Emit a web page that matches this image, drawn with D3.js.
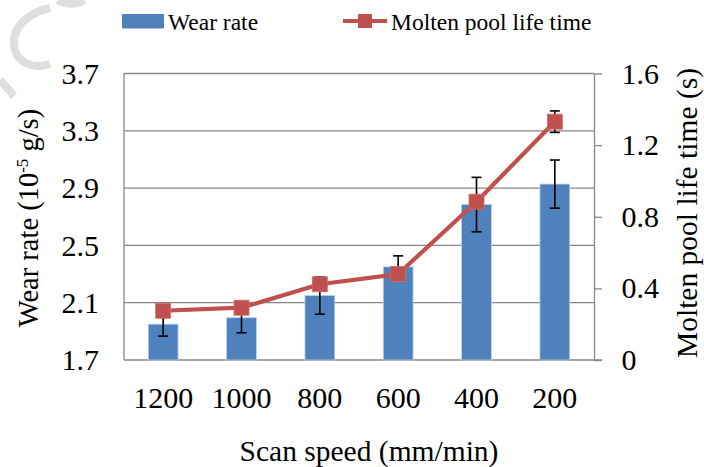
<!DOCTYPE html>
<html>
<head>
<meta charset="utf-8">
<script src="https://cdn.jsdelivr.net/npm/d3@7"></script>
<style>
  html, body { margin: 0; padding: 0; background: #fff; }
  svg text { font-family: "Liberation Serif", "Tinos", "Times New Roman", "DejaVu Serif", serif !important; }
</style>
</head>
<body>
<svg id="chart" width="704" height="467"></svg>
<script>
// Scan speed categories (mm/min)
const categories = ["1200", "1000", "800", "600", "400", "200"];
// Wear rate, 10^-5 g/s, with standard deviation
const wearRate = [1.95, 1.995, 2.15, 2.35, 2.785, 2.928];
const wearErr = [0.083, 0.105, 0.13, 0.077, 0.19, 0.168];
// Molten pool life time, s, with standard deviation
const poolLife = [0.275, 0.292, 0.423, 0.48, 0.884, 1.331];
const poolErr = [0.02, 0.02, 0.02, 0.02, 0.03, 0.06];
// Axis ticks
const leftTicks = [1.7, 2.1, 2.5, 2.9, 3.3, 3.7];
const rightTicks = [0, 0.4, 0.8, 1.2, 1.6];

const svg = d3.select("#chart");
const plot = { left: 124, right: 594, top: 73.5, bottom: 360 };
const gridColor = "#878787";
const barColor = "#4F81BD";
const lineColor = "#C0504D";

const x = d3.scaleBand().domain(categories)
  .range([plot.left, plot.right]).paddingInner(0.62).paddingOuter(0.31);
const yL = d3.scaleLinear().domain([1.7, 3.7]).range([plot.bottom, plot.top]);
const yR = d3.scaleLinear().domain([0, 1.6]).range([plot.bottom, plot.top]);
const cx = c => x(c) + x.bandwidth() / 2;

// faint watermark stroke in the corner
svg.append("g").attr("fill", "none").attr("stroke", "#dedede")
  .attr("stroke-width", 8)
  .selectAll("path")
  .data([
    "M50,8 C30,12 12,26 14,46 C16,62 32,70 50,64",
    "M0,80 L14,96",
    "M58,0 C66,5 76,5 84,0"
  ])
  .join("path").attr("d", d => d);

// horizontal gridlines
svg.append("g").selectAll("line").data(leftTicks.slice(1)).join("line")
  .attr("x1", plot.left).attr("x2", plot.right)
  .attr("y1", d => yL(d)).attr("y2", d => yL(d))
  .attr("stroke", gridColor).attr("stroke-width", 1.3);

// axis lines
const axisLines = svg.append("g").attr("stroke", gridColor).attr("stroke-width", 1.3);
axisLines.append("line").attr("x1", plot.left).attr("x2", plot.left)
  .attr("y1", plot.top).attr("y2", plot.bottom);
axisLines.append("line").attr("x1", plot.left).attr("x2", plot.right + 8)
  .attr("y1", plot.bottom).attr("y2", plot.bottom);

// right axis with outward ticks
const rightAxis = svg.append("g")
  .attr("transform", `translate(${plot.right},0)`)
  .call(d3.axisRight(yR).tickValues(rightTicks).tickSize(8).tickSizeOuter(0)
    .tickFormat(d => d === 0 ? "0" : d3.format(".1f")(d)));
rightAxis.select(".domain").attr("stroke", gridColor).attr("stroke-width", 1.3);
rightAxis.selectAll(".tick line").attr("stroke", gridColor).attr("stroke-width", 1.3);
rightAxis.selectAll(".tick text")
  .attr("x", 27.5).attr("dy", "0.32em")
  .attr("fill", "#000").style("font-size", "30px");

// left axis labels
const leftAxis = svg.append("g")
  .attr("transform", `translate(${plot.left},0)`)
  .call(d3.axisLeft(yL).tickValues(leftTicks).tickSize(0).tickFormat(d3.format(".1f")));
leftAxis.select(".domain").remove();
leftAxis.selectAll(".tick text")
  .attr("x", -25).attr("dy", "0.32em")
  .attr("fill", "#000").style("font-size", "30px");

// category labels
const bottomAxis = svg.append("g")
  .attr("transform", `translate(0,${plot.bottom})`)
  .call(d3.axisBottom(x).tickSize(0));
bottomAxis.select(".domain").remove();
bottomAxis.selectAll(".tick text")
  .attr("y", 48).attr("dy", 0)
  .attr("fill", "#000").style("font-size", "30px");

// bars
svg.append("g").selectAll("rect").data(categories).join("rect")
  .attr("x", c => x(c))
  .attr("width", x.bandwidth())
  .attr("y", (c, i) => yL(wearRate[i]))
  .attr("height", (c, i) => yL(1.7) - yL(wearRate[i]))
  .attr("fill", barColor)
  .attr("stroke", "#b9cde6").attr("stroke-width", 0.8);

// error bars
function errorBars(values, errs, scale) {
  const g = svg.append("g").attr("stroke", "#000").attr("stroke-width", 1.6);
  categories.forEach((c, i) => {
    const hi = scale(values[i] + errs[i]);
    const lo = scale(values[i] - errs[i]);
    const xc = cx(c);
    g.append("line").attr("x1", xc).attr("x2", xc).attr("y1", hi).attr("y2", lo);
    g.append("line").attr("x1", xc - 5).attr("x2", xc + 5).attr("y1", hi).attr("y2", hi);
    g.append("line").attr("x1", xc - 5).attr("x2", xc + 5).attr("y1", lo).attr("y2", lo);
  });
}
errorBars(wearRate, wearErr, yL);
errorBars(poolLife, poolErr, yR);

// molten pool life time line and markers
const line = d3.line().x((d, i) => cx(categories[i])).y(d => yR(d));
svg.append("path").datum(poolLife)
  .attr("d", line).attr("fill", "none")
  .attr("stroke", lineColor).attr("stroke-width", 4.2)
  .attr("stroke-linejoin", "round");
const m = 15;
svg.append("g").selectAll("rect").data(poolLife).join("rect")
  .attr("x", (d, i) => cx(categories[i]) - m / 2)
  .attr("y", d => yR(d) - m / 2)
  .attr("width", m).attr("height", m)
  .attr("fill", lineColor).attr("stroke", "#cf6f6c").attr("stroke-width", 0.8);

// axis titles
svg.append("text")
  .attr("x", 369).attr("y", 461).attr("text-anchor", "middle")
  .style("font-size", "29.5px")
  .text("Scan speed (mm/min)");

const yTitle = svg.append("text")
  .attr("transform", "translate(38,218) rotate(-90)")
  .attr("text-anchor", "middle")
  .style("font-size", "28.5px");
yTitle.append("tspan").text("Wear rate (10");
yTitle.append("tspan").attr("dy", -10).style("font-size", "17px").text("-5");
yTitle.append("tspan").attr("dy", 10).text(" g/s)");

svg.append("text")
  .attr("transform", "translate(697,213) rotate(-90)")
  .attr("text-anchor", "middle")
  .style("font-size", "29.5px")
  .text("Molten pool life time (s)");

// legend
const legend = svg.append("g").style("font-size", "23.5px");
legend.append("rect").attr("x", 122).attr("y", 14).attr("width", 42).attr("height", 14.5)
  .attr("fill", barColor);
legend.append("text").attr("x", 168).attr("y", 30).text("Wear rate");
legend.append("line").attr("x1", 343).attr("x2", 387).attr("y1", 21).attr("y2", 21)
  .attr("stroke", lineColor).attr("stroke-width", 4.2);
legend.append("rect").attr("x", 358).attr("y", 14).attr("width", 14).attr("height", 14)
  .attr("fill", lineColor);
legend.append("text").attr("x", 391).attr("y", 30).text("Molten pool life time");
</script>
</body>
</html>
